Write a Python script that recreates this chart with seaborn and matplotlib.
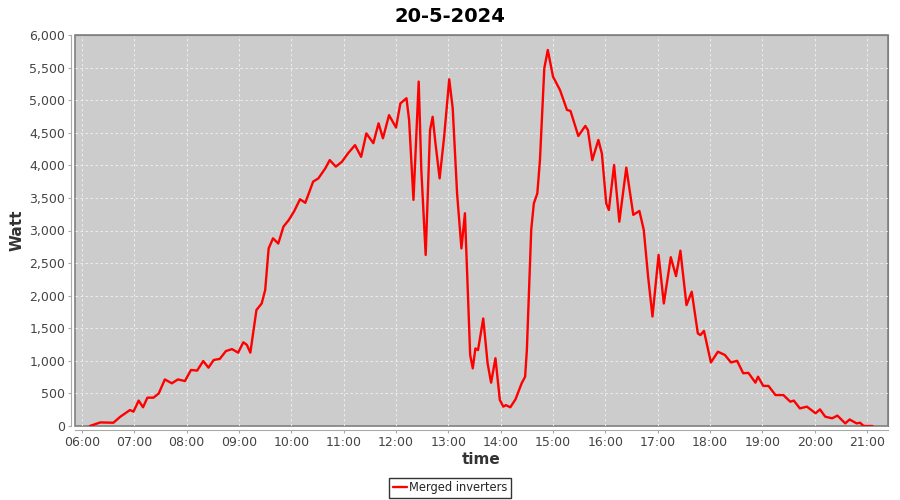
import pandas as pd
import matplotlib
matplotlib.use('Agg')
import matplotlib.pyplot as plt
import matplotlib.dates as mdates
from matplotlib.ticker import FuncFormatter, MultipleLocator
import seaborn as sns

# Valores (hora, vatios)
horas = ['06:09', '06:21', '06:36', '06:44', '06:55', '06:59', '07:05', '07:10', '07:15', '07:22',
         '07:28', '07:35', '07:43', '07:50', '07:58', '08:05', '08:12', '08:19', '08:25', '08:31',
         '08:38', '08:45', '08:52', '08:59', '09:05', '09:09', '09:13', '09:20', '09:26', '09:30',
         '09:34', '09:39', '09:45', '09:51', '09:57', '10:03', '10:10', '10:16', '10:25', '10:31',
         '10:39', '10:44', '10:51', '10:58', '11:05', '11:13', '11:20', '11:26', '11:34', '11:40',
         '11:45', '11:52', '12:00', '12:05', '12:12', '12:15', '12:20', '12:26', '12:29', '12:34',
         '12:39', '12:42', '12:45', '12:50', '12:55', '13:01', '13:05', '13:10', '13:15', '13:19',
         '13:25', '13:28', '13:31', '13:34', '13:40', '13:45', '13:49', '13:54', '13:59', '14:03',
         '14:06', '14:11', '14:17', '14:24', '14:28', '14:30', '14:35', '14:38', '14:42', '14:45',
         '14:50', '14:54', '15:00', '15:08', '15:16', '15:20', '15:29', '15:37', '15:40', '15:45',
         '15:52', '15:56', '16:01', '16:04', '16:10', '16:16', '16:24', '16:32', '16:39', '16:44',
         '16:49', '16:54', '17:01', '17:07', '17:15', '17:21', '17:26', '17:33', '17:39', '17:46',
         '17:49', '17:53', '18:01', '18:09', '18:17', '18:24', '18:31', '18:38', '18:44', '18:52',
         '18:55', '19:01', '19:07', '19:15', '19:24', '19:32', '19:36', '19:43', '19:51', '20:01',
         '20:06', '20:12', '20:20', '20:26', '20:35', '20:40', '20:48', '20:52', '20:56', '21:06']
vatios = [0, 55, 50, 143, 245, 220, 390, 287, 435, 435,
          500, 715, 655, 715, 690, 860, 850, 997, 895, 1013,
          1030, 1150, 1180, 1125, 1285, 1245, 1125, 1780, 1880, 2085,
          2725, 2880, 2800, 3060, 3160, 3290, 3480, 3425, 3750, 3800,
          3955, 4080, 3980, 4055, 4185, 4310, 4130, 4490, 4340, 4645,
          4415, 4770, 4580, 4950, 5030, 4695, 3470, 5285, 3930, 2625,
          4540, 4745, 4365, 3800, 4415, 5320, 4875, 3570, 2725, 3265,
          1090, 885, 1190, 1165, 1650, 960, 665, 1040, 400, 297,
          320, 287, 410, 655, 757, 1165, 3010, 3415, 3570, 4080,
          5490, 5770, 5360, 5155, 4850, 4835, 4450, 4605, 4540, 4080,
          4390, 4180, 3415, 3315, 4005, 3135, 3965, 3240, 3300, 3010,
          2290, 1680, 2625, 1880, 2590, 2300, 2690, 1855, 2060, 1420,
          1395, 1460, 975, 1140, 1090, 975, 1000, 810, 815, 665,
          757, 615, 615, 475, 475, 373, 390, 270, 297, 195,
          255, 143, 118, 160, 40, 100, 40, 50, 0, 0]
serie = 'Merged inverters'

df = pd.DataFrame({'time': pd.to_datetime('2024-05-20 ' + pd.Series(horas)), 'Watt': vatios, 'serie': serie})

sns.set_style('white')
plt.rcParams['font.family'] = ['DejaVu Sans']

fig = plt.figure(figsize=(9, 5), dpi=100)
ax = fig.add_axes([75 / 900, 1 - 426 / 500, 813 / 900, 391 / 500])
ax.set_facecolor('#cccccc')

sns.lineplot(data=df, x='time', y='Watt', hue='serie', palette=['#ff0000'], linewidth=1.7, ax=ax)

ax.set_ylim(0, 6000)
ax.set_xlim(pd.Timestamp('2024-05-20 05:52'), pd.Timestamp('2024-05-20 21:24'))
ax.yaxis.set_major_locator(MultipleLocator(500))
ax.yaxis.set_major_formatter(FuncFormatter(lambda v, p: f'{int(v):,}'))
ax.xaxis.set_major_locator(mdates.HourLocator())
ax.xaxis.set_major_formatter(mdates.DateFormatter('%H:%M'))

ax.grid(True, color='#f2f2f2', linestyle=(0, (3, 3)), linewidth=0.6)
for s in ['top', 'right']:
    ax.spines[s].set_color('#808080')
for s in ['left', 'bottom']:
    ax.spines[s].set_position(('outward', 3))
    ax.spines[s].set_color('#aaaaaa')
ax.patch.set_edgecolor('#808080')
ax.patch.set_linewidth(1.2)

ax.tick_params(axis='both', labelsize=9, colors='#444444', length=2, pad=2, direction='out',
               left=True, bottom=True)
ax.tick_params(axis='both', color='#aaaaaa')

ax.set_xlabel('time', fontsize=11, fontweight='bold', color='#333333')
ax.set_ylabel('Watt', fontsize=11, fontweight='bold', color='#333333')
ax.yaxis.set_label_coords(-0.0615, 0.5)
ax.xaxis.set_label_coords(0.5, -0.066)
fig.suptitle('20-5-2024', fontsize=14, fontweight='bold', color='black', y=0.985)

ax.get_legend().remove()
handles, labels = ax.get_legend_handles_labels()
leg = fig.legend(handles, labels, loc='center', bbox_to_anchor=(0.5, 1 - 488 / 500), frameon=True,
                 fancybox=False, fontsize=8.3, handlelength=1.2, handletextpad=0.2, borderpad=0.3)
leg.get_frame().set_edgecolor('black')
leg.get_frame().set_linewidth(1)

fig.savefig('out.png', dpi=100)
